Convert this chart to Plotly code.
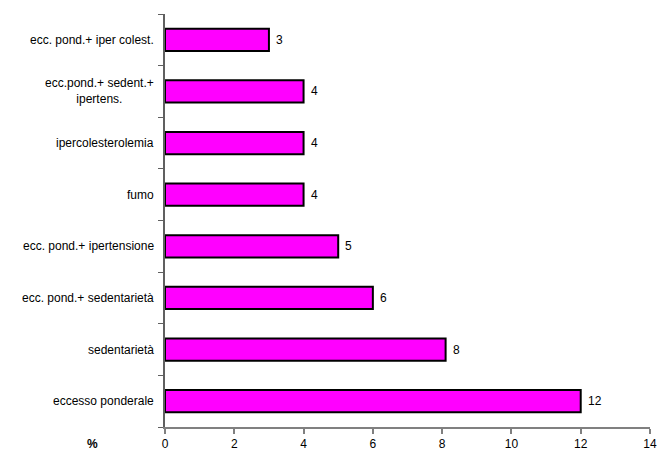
import plotly.graph_objects as go

categories = [
    "eccesso ponderale",
    "sedentarietà",
    "ecc. pond.+ sedentarietà",
    "ecc. pond.+ ipertensione",
    "fumo",
    "ipercolesterolemia",
    "ecc.pond.+ sedent.+<br>ipertens.",
    "ecc. pond.+ iper colest.",
]
values = [12.0, 8.1, 6.0, 5.0, 4.0, 4.0, 4.0, 3.0]
value_labels = ["12", "8", "6", "5", "4", "4", "4", "3"]
x_ticks = [0, 2, 4, 6, 8, 10, 12, 14]

FONT = "Liberation Sans, Arial, sans-serif"

fig = go.Figure()
fig.add_trace(go.Bar(
    y=categories,
    x=values,
    orientation="h",
    width=0.43,
    marker=dict(color="#FF00FF", line=dict(color="#000000", width=2)),
))

annotations = []
for c in categories:
    annotations.append(dict(
        x=0, xref="paper", y=c, yref="y",
        text=c, showarrow=False, xanchor="right", yanchor="middle",
        align="center", xshift=-9,
        font=dict(family=FONT, size=12, color="#000000"),
    ))
for c, v, lab in zip(categories, values, value_labels):
    annotations.append(dict(
        x=v, xref="x", y=c, yref="y",
        text=lab, showarrow=False, xanchor="left", yanchor="middle",
        xshift=5,
        font=dict(family=FONT, size=12, color="#000000"),
    ))
annotations.append(dict(
    x=-0.149, xref="paper", y=-0.04, yref="paper", text="<b>%</b>",
    showarrow=False, xanchor="center", yanchor="middle",
    font=dict(family=FONT, size=12, color="#000000"),
))

fig.update_layout(
    width=658, height=452,
    margin=dict(l=165, r=8, t=14, b=25),
    paper_bgcolor="white", plot_bgcolor="white",
    showlegend=False,
    annotations=annotations,
    font=dict(family=FONT, size=12, color="#000000"),
)
fig.update_xaxes(
    range=[0, 14], tickvals=x_ticks, ticktext=[str(t) for t in x_ticks],
    showgrid=False, zeroline=False,
    showline=True, linecolor="#808080", linewidth=2,
    ticks="outside", ticklen=5, tickcolor="#808080", tickwidth=1.5,
    tickfont=dict(family=FONT, size=12, color="#000000"),
    ticklabeloverflow="allow",
    automargin=False,
)
fig.update_yaxes(
    type="category", categoryorder="array", categoryarray=categories,
    range=[-0.5, 7.5],
    showticklabels=False, showgrid=False, zeroline=False,
    showline=True, linecolor="#606060", linewidth=1.5,
    ticks="outside", ticklen=5, tickcolor="#606060", tickson="boundaries",
    automargin=False,
)

fig.write_html("out.html")
